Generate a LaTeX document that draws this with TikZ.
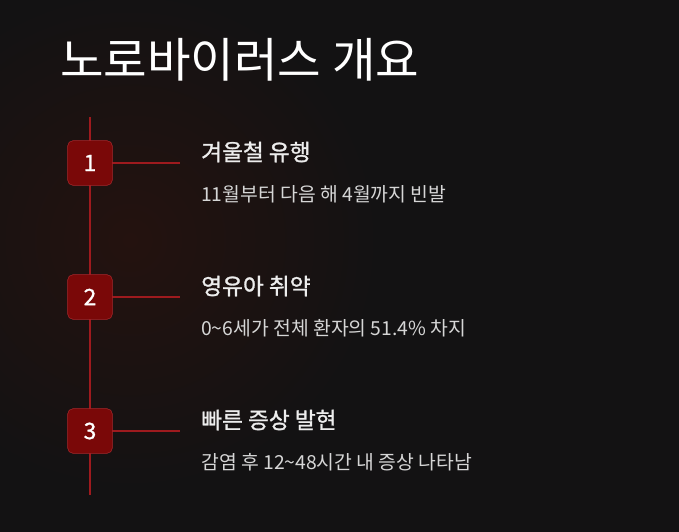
\documentclass[tikz,border=0pt]{standalone}
\usepackage{fontspec}
\setmainfont{Noto Sans CJK KR}
\newfontfamily\medfont[FakeBold=1.2]{Noto Sans CJK KR}
\definecolor{bgdark}{HTML}{131213}
\definecolor{bgred}{HTML}{24120F}
\definecolor{linered}{HTML}{9E1A1E}
\definecolor{boxred}{HTML}{7A0808}
\definecolor{boxedge}{HTML}{A8282C}
\definecolor{headtxt}{HTML}{EDEDED}
\definecolor{subtxt}{HTML}{D6D6D6}
\begin{document}
\begin{tikzpicture}[x=0.75pt, y=-0.75pt,
    numbox/.style={draw=boxedge, fill=boxred, rounded corners=4pt, minimum size=33.5pt,
        inner sep=0pt, text=white, font=\medfont\fontsize{17}{17}\selectfont},
    heading/.style={anchor=west, text=headtxt, inner sep=0pt, font=\medfont\fontsize{17}{17}\selectfont},
    subline/.style={anchor=west, text=subtxt, inner sep=0pt, font=\fontsize{14.5}{14.5}\selectfont}]
    % Background
    \useasboundingbox (0,0) rectangle (679,532);
    \clip (0,0) rectangle (679,532);
    \fill[bgdark] (0,0) rectangle (679,532);
    \shade[inner color=bgred, outer color=bgdark] (130,240) circle (250);

    % Title
    \node[anchor=west, text=white, inner sep=0pt, font=\fontsize{35.5}{35.5}\selectfont] (title) at (60,60) {노로바이러스 개요};

    % Timeline
    \coordinate (top) at (90,117);
    \coordinate (bottom) at (90,495);
    \draw[linered, line width=2.2pt] (top) -- (bottom);

    % Steps
    \foreach \n/\y/\head/\sub in {1/163/겨울철 유행/11월부터 다음 해 4월까지 빈발,
                                  2/297/영유아 취약/0\textasciitilde6세가 전체 환자의 51.4\% 차지,
                                  3/431/빠른 증상 발현/감염 후 12\textasciitilde48시간 내 증상 나타남} {
        \coordinate (end\n) at (180,\y);
        \draw[linered, line width=2.2pt] (90,\y) -- (end\n);
        \node[numbox] (box\n) at (90,\y) {\n};
        \node[heading] (head\n) at (201,\y-11) {\head};
        \node[subline] (sub\n) at (201,\y+31) {\sub};
    }
\end{tikzpicture}
\end{document}
